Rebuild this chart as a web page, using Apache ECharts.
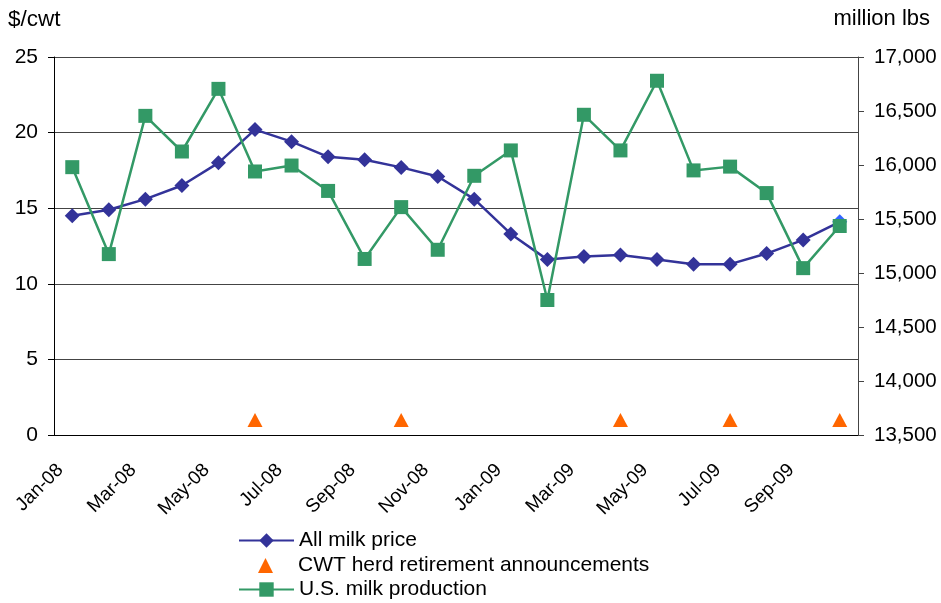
<!DOCTYPE html>
<html>
<head>
<meta charset="utf-8">
<script src="https://cdn.jsdelivr.net/npm/echarts@6/dist/echarts.min.js"></script>
<style>html,body{margin:0;padding:0;background:#fff;}#c{width:941px;height:603px;}</style>
</head>
<body>
<div id="c"></div>
<script>
var months = ['Jan-08','Feb-08','Mar-08','Apr-08','May-08','Jun-08','Jul-08','Aug-08','Sep-08','Oct-08','Nov-08','Dec-08',
              'Jan-09','Feb-09','Mar-09','Apr-09','May-09','Jun-09','Jul-09','Aug-09','Sep-09','Oct-09'];
var milkPrice = [14.5,14.9,15.6,16.5,18.0,20.2,19.4,18.4,18.2,17.7,17.1,15.6,13.3,11.6,11.8,11.9,11.6,11.3,11.3,12.0,12.9,14.1];
var milkProduction = [15980,15175,16455,16125,16705,15940,15995,15760,15130,15610,15215,15900,16135,14750,16465,16135,16780,15950,15985,15740,15045,15435];
var cwtAnnouncements = [null,null,null,null,null,1,null,null,null,1,null,null,null,null,null,1,null,null,1,null,null,1];
var leftTicks = {min:0, max:25, interval:5};
var rightTicks = {min:13500, max:17000, interval:500};

var chart = echarts.init(document.getElementById('c'));
var font = 'Liberation Sans, Arial, sans-serif';
var legendText = {fontSize:21, color:'#000', fontFamily:font};
var priceData = milkPrice.map(function(v, i){
  return i === milkPrice.length - 1 ? {value:v, itemStyle:{color:'#3366FF'}} : v;
});
chart.setOption({
  animation:false,
  backgroundColor:'#fff',
  textStyle:{fontFamily:font},
  grid:{left:54, right:83, top:57, bottom:168, containLabel:false},
  graphic:[
    {type:'text', left:8, top:8, style:{text:'$/cwt', font:'22.5px '+font, fill:'#000'}},
    {type:'text', right:11, top:8, style:{text:'million lbs', font:'22px '+font, fill:'#000'}}
  ],
  legend:[
    {left:238, top:530, padding:0, itemWidth:55, itemHeight:18,
     textStyle:legendText, data:['All milk price']},
    {left:258, top:555, padding:0, itemWidth:15, itemHeight:15,
     textStyle:Object.assign({padding:[0,0,0,20]}, legendText), data:[{name:'CWT herd retirement announcements', icon:'triangle'}]},
    {left:238, top:579, padding:0, itemWidth:55, itemHeight:18,
     textStyle:legendText, data:['U.S. milk production']}
  ],
  xAxis:{
    type:'category', data:months, boundaryGap:true,
    axisLine:{lineStyle:{color:'#000', width:1}},
    axisTick:{interval:0, length:6, lineStyle:{color:'#000'}},
    axisLabel:{interval:1, rotate:45, fontSize:19, color:'#000', margin:20, padding:[0,17,0,0], fontFamily:font}
  },
  yAxis:[
    {type:'value', min:leftTicks.min, max:leftTicks.max, interval:leftTicks.interval, position:'left',
     axisLine:{show:true, lineStyle:{color:'#000'}},
     axisTick:{show:true, length:6, lineStyle:{color:'#000'}},
     axisLabel:{fontSize:21, color:'#000', margin:16, fontFamily:font},
     splitLine:{show:true, lineStyle:{color:'#444', width:1}}},
    {type:'value', min:rightTicks.min, max:rightTicks.max, interval:rightTicks.interval, position:'right',
     axisLine:{show:true, lineStyle:{color:'#444'}},
     axisTick:{show:true, length:6, lineStyle:{color:'#444'}},
     axisLabel:{fontSize:20.5, color:'#000', margin:16, fontFamily:font,
       formatter:function(v){return v.toLocaleString('en-US');}},
     splitLine:{show:false}}
  ],
  series:[
    {name:'All milk price', type:'line', yAxisIndex:0, data:priceData,
     symbol:'diamond', symbolSize:15, z:2,
     lineStyle:{color:'#333399', width:2.5}, itemStyle:{color:'#333399'}},
    {name:'CWT herd retirement announcements', type:'scatter', yAxisIndex:0, data:cwtAnnouncements,
     symbol:'triangle', symbolSize:[15,14], z:3, itemStyle:{color:'#FF6600', opacity:1}},
    {name:'U.S. milk production', type:'line', yAxisIndex:1, data:milkProduction,
     symbol:'rect', symbolSize:14, z:4,
     lineStyle:{color:'#339966', width:2.5}, itemStyle:{color:'#339966'}}
  ]
});
</script>
</body>
</html>
